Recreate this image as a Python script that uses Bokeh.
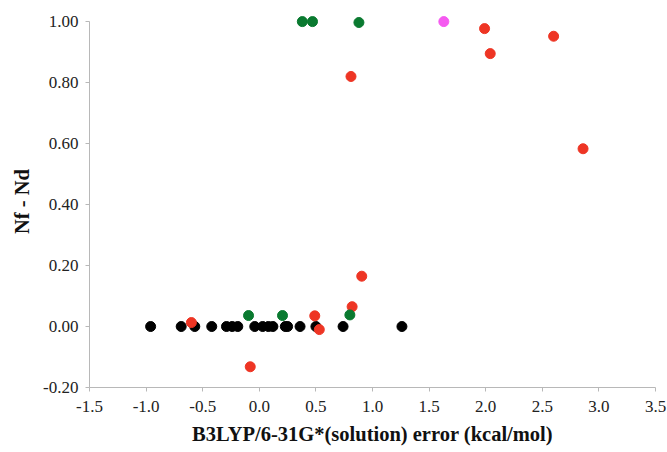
from bokeh.plotting import figure
from bokeh.models import FixedTicker, NumeralTickFormatter, Range1d
from bokeh.embed import file_html
from bokeh.resources import INLINE

# Data
black_x = [-0.96, -0.69, -0.57, -0.42, -0.29, -0.24, -0.19, -0.04, 0.03, 0.08, 0.12, 0.23, 0.25, 0.36, 0.50, 0.74, 1.26]
black_y = [0.0] * len(black_x)

red_x = [-0.60, -0.08, 0.49, 0.53, 0.82, 0.905, 0.81, 1.99, 2.04, 2.60, 2.86]
red_y = [0.013, -0.132, 0.035, -0.010, 0.065, 0.165, 0.82, 0.977, 0.895, 0.952, 0.583]

green_x = [-0.095, 0.205, 0.80, 0.38, 0.47, 0.88]
green_y = [0.036, 0.036, 0.038, 1.0, 1.0, 0.997]

magenta_x = [1.63]
magenta_y = [1.0]

x_ticks = [-1.5, -1.0, -0.5, 0.0, 0.5, 1.0, 1.5, 2.0, 2.5, 3.0, 3.5]
y_ticks = [-0.2, 0.0, 0.2, 0.4, 0.6, 0.8, 1.0]

p = figure(width=667, height=452, output_backend="svg", toolbar_location=None,
           x_range=Range1d(-1.5, 3.5), y_range=Range1d(-0.2, 1.02),
           min_border_left=89, min_border_right=12, min_border_top=15, min_border_bottom=65)
p.outline_line_color = None
p.xgrid.visible = False
p.ygrid.visible = False
p.background_fill_color = "white"
p.border_fill_color = "white"

FONT = "Liberation Serif"
for ax in (p.xaxis[0], p.yaxis[0]):
    ax.axis_line_color = "#b8b8b8"
    ax.major_tick_line_color = "#b8b8b8"
    ax.minor_tick_line_color = None
    ax.major_tick_in = 0
    ax.major_tick_out = 4
    ax.major_label_text_font = FONT
    ax.major_label_text_font_size = "17px"
    ax.major_label_text_color = "#222222"
    ax.axis_label_text_font = FONT
    ax.axis_label_text_font_size = "20.5px"
    ax.axis_label_text_font_style = "bold"
    ax.axis_label_text_color = "#111111"

p.xaxis.ticker = FixedTicker(ticks=x_ticks)
p.xaxis.formatter = NumeralTickFormatter(format="0.0")
p.xaxis.bounds = (-1.5, 3.5)
p.xaxis.axis_label = "B3LYP/6-31G*(solution) error (kcal/mol)"
p.xaxis.major_label_standoff = 9
p.xaxis.axis_label_standoff = 8

p.yaxis.ticker = FixedTicker(ticks=y_ticks)
p.yaxis.formatter = NumeralTickFormatter(format="0.00")
p.yaxis.bounds = (-0.2, 1.0)
p.yaxis.axis_label = "Nf - Nd"
p.yaxis.major_label_standoff = 7
p.yaxis.axis_label_standoff = 7

S = 10
p.scatter(black_x, black_y, size=S, color="#000000")
p.scatter(red_x, red_y, size=S, color="#ee3524")
p.scatter(green_x, green_y, size=S, color="#0a7a30")
p.scatter(magenta_x, magenta_y, size=S, color="#f55af0")

open("out.html", "w").write(file_html(p, INLINE))
